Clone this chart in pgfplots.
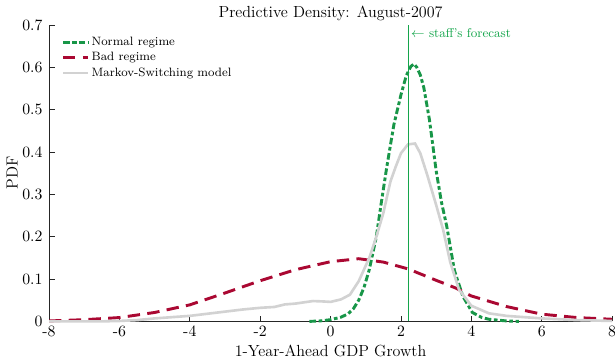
\documentclass[border=0pt]{standalone}
\usepackage{pgfplots}
\pgfplotsset{compat=1.18}
\definecolor{normgreen}{RGB}{24,150,72}
\definecolor{badred}{RGB}{170,8,50}
\definecolor{msgray}{RGB}{210,210,210}
\definecolor{axgray}{RGB}{38,38,38}
\definecolor{staffgreen}{RGB}{20,165,75}
\begin{document}
\begin{tikzpicture}
\begin{axis}[
  scale only axis,
  width=385.6pt, height=203pt,
  xmin=-8, xmax=8, ymin=0, ymax=0.7,
  xtick={-8,-6,...,8}, ytick={0,0.1,...,0.7},
  xticklabels={{-8},{-6},{-4},{-2},{0},{2},{4},{6},{8}},
  yticklabels={0,0.1,0.2,0.3,0.4,0.5,0.6,0.7},
  axis lines=left,
  axis line style={-, axgray, line width=0.6pt},
  tick style={axgray, line width=0.6pt},
  tick align=inside,
  major tick length=4pt,
  ticklabel style={font=\fontsize{10.8}{13}\selectfont},
  xticklabel style={anchor=base, yshift=-10.2pt},
  yticklabel style={xshift=-1pt},
  legend style={at={(axis description cs:0.014,0.978)}, anchor=north west, draw=none, fill=none,
    font=\fontsize{8.3}{10}\selectfont, row sep=0.3pt, nodes={inner sep=1.5pt}},
  legend cell align=left,
  clip=false,
]
\addplot[normgreen, line width=2pt, dash pattern=on 4.5pt off 1.8pt on 2.5pt off 1.8pt] coordinates {
(-0.6,0) (-0.3,0.001) (0,0.004) (0.3,0.010) (0.5,0.018) (0.65,0.030) (0.8,0.050) (0.95,0.080) (1.1,0.122)
(1.3,0.200) (1.45,0.285) (1.6,0.366) (1.8,0.465) (2.0,0.535) (2.15,0.580) (2.28,0.602) (2.37,0.608)
(2.45,0.600) (2.55,0.582) (2.65,0.552) (2.81,0.476) (3.0,0.356) (3.15,0.282) (3.3,0.225) (3.52,0.120)
(3.76,0.059) (4.03,0.021) (4.3,0.009) (4.5,0.005) (5.0,0.001) (5.35,0.0)
};
\addlegendentry{Normal regime}
\addplot[badred, line width=2pt, dash pattern=on 8.5pt off 5pt] coordinates {
(-8,0.001) (-7,0.004) (-6,0.009) (-5,0.021) (-4,0.039) (-3,0.067) (-2,0.096) (-1,0.122)
(0,0.141) (0.8,0.148) (1.5,0.140) (2.2,0.124) (3,0.097) (3.55,0.079) (4,0.060) (5,0.035)
(6,0.017) (7,0.009) (8,0.005)
};
\addlegendentry{Bad regime}
\addplot[msgray, line width=1.8pt] coordinates {
(-8,0) (-6.5,0) (-6,0.001) (-5.5,0.003) (-5,0.007) (-4.5,0.010) (-4,0.013) (-3.5,0.018)
(-3,0.023) (-2.5,0.028) (-2,0.032) (-1.6,0.034) (-1.3,0.040) (-1,0.042) (-0.5,0.048)
(-0.2,0.047) (0,0.046) (0.3,0.052) (0.55,0.063) (0.8,0.095) (1.1,0.150) (1.3,0.200)
(1.5,0.256) (1.7,0.330) (1.85,0.365) (2.0,0.397) (2.2,0.418) (2.4,0.420) (2.55,0.397)
(2.75,0.345) (3.0,0.275) (3.2,0.216) (3.4,0.140) (3.65,0.075) (4.0,0.037) (4.5,0.019)
(5,0.013) (5.5,0.010) (6,0.007) (7,0.003) (8,0.001)
};
\addlegendentry{Markov-Switching model}
\addplot[draw=staffgreen, line width=0.6pt, forget plot] coordinates {(2.2,0) (2.2,0.7)};
\node[anchor=west, text=staffgreen, font=\fontsize{8.7}{10}\selectfont, inner sep=2pt] at (axis cs:2.2,0.681) {$\leftarrow$ staff's forecast};
\node[anchor=base, font=\fontsize{11}{13}\selectfont, inner sep=0pt] at ([yshift=5.2pt]rel axis cs:0.5,1) {Predictive Density: August-2007};
\node[anchor=base, font=\fontsize{11}{13}\selectfont, inner sep=0pt] at ([yshift=-24.2pt]rel axis cs:0.5,0) {1-Year-Ahead GDP Growth};
\node[rotate=90, anchor=center, font=\fontsize{11}{13}\selectfont, inner sep=0pt] at ([xshift=-25.3pt]rel axis cs:0,0.5) {PDF};
\coordinate (sw) at (rel axis cs:0,0);
\coordinate (ne) at (rel axis cs:1,1);
\end{axis}
\pgfresetboundingbox
\path[use as bounding box] ([shift={(-33.6pt,-25.7pt)}]sw) rectangle ([shift={(2pt,17.1pt)}]ne);
\end{tikzpicture}
\end{document}
